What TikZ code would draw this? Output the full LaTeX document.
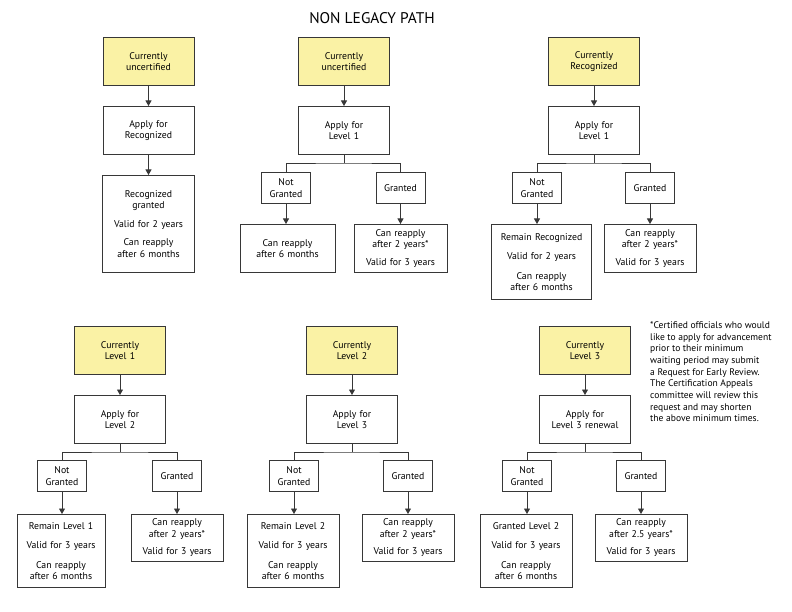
\documentclass[tikz,border=0pt]{standalone}
\usepackage{fontspec}
\setmainfont{PT Sans}
\usetikzlibrary{arrows.meta}
\definecolor{certyellow}{RGB}{250,242,165}
\definecolor{lineclr}{RGB}{55,55,55}
\tikzset{
  box/.style={draw=lineclr, line width=0.9bp, align=center, anchor=north, inner sep=2bp,
    minimum height=48bp, text width=87bp, font=\fontsize{9.8}{11.5}\selectfont},
  statusbox/.style={box, fill=certyellow},
  decisionbox/.style={box, minimum height=31bp, text width=45bp},
  resultbox/.style={box, text width=88bp},
  arr/.style={draw=lineclr, line width=0.9bp, -{Triangle[length=5.5bp,width=6bp]}},
  branch/.style={draw=lineclr, line width=0.9bp},
}
\begin{document}
\begin{tikzpicture}[x=1bp, y=-1bp]
\useasboundingbox (0,0) rectangle (792,612);
\node[font=\fontsize{15.5}{18}\selectfont] (title) at (372,18) {NON LEGACY PATH};

  \node[statusbox] (s1) at (148.5,37) {Currently\\uncertified};
  \node[box] (a1) at (148.5,106) {Apply for\\Recognized};
  \node[resultbox, minimum height=97bp] (r1) at (148.5,175) {Recognized\\granted\\[7bp]Valid for 2 years\\[7bp]Can reapply\\after 6 months};
  \draw[arr] (s1) -- (a1);
  \draw[arr] (a1) -- (r1);

  \node[statusbox] (s2) at (344,37) {Currently\\uncertified};
  \node[box] (a2) at (344,106) {Apply for\\Level 1};
  \coordinate (j2) at (344,163);
  \node[decisionbox] (n2) at (286,172) {Not\\Granted};
  \node[decisionbox] (g2) at (400.5,172) {Granted};
  \node[resultbox, text width=91bp] (rn2) at (287.5,224) {Can reapply\\after 6 months};
  \node[resultbox, text width=89bp] (rg2) at (400.5,224) {Can reapply\\after 2 years*\\[6bp]Valid for 3 years};
  \draw[arr] (s2) -- (a2);
  \draw[branch] (a2) -- (j2);
  \draw[branch] (n2.north) |- (j2) -| (g2.north);
  \draw[arr] (n2) -- (n2 |- rn2.north);
  \draw[arr] (g2) -- (g2 |- rg2.north);

  \node[statusbox] (s3) at (594,37) {Currently\\Recognized};
  \node[box] (a3) at (594,106) {Apply for\\Level 1};
  \coordinate (j3) at (594,163);
  \node[decisionbox] (n3) at (537,172) {Not\\Granted};
  \node[decisionbox] (g3) at (650,172) {Granted};
  \node[resultbox, text width=96bp, minimum height=75bp] (rn3) at (541.5,224) {Remain Recognized\\[8bp]Valid for 2 years\\[8bp]Can reapply\\after 6 months};
  \node[resultbox] (rg3) at (650,224) {Can reapply\\after 2 years*\\[6bp]Valid for 3 years};
  \draw[arr] (s3) -- (a3);
  \draw[branch] (a3) -- (j3);
  \draw[branch] (n3.north) |- (j3) -| (g3.north);
  \draw[arr] (n3) -- (n3 |- rn3.north);
  \draw[arr] (g3) -- (g3 |- rg3.north);

  \node[statusbox] (s4) at (120,326) {Currently\\Level 1};
  \node[box] (a4) at (120,395) {Apply for\\Level 2};
  \coordinate (j4) at (120,452);
  \node[decisionbox] (n4) at (62,460) {Not\\Granted};
  \node[decisionbox] (g4) at (177,460) {Granted};
  \node[resultbox, text width=84bp, minimum height=73bp] (rn4) at (61,514) {Remain Level 1\\[8bp]Valid for 3 years\\[8bp]Can reapply\\after 6 months};
  \node[resultbox, minimum height=47bp] (rg4) at (177,514) {Can reapply\\after 2 years*\\[6bp]Valid for 3 years};
  \draw[arr] (s4) -- (a4);
  \draw[branch] (a4) -- (j4);
  \draw[branch] (n4.north) |- (j4) -| (g4.north);
  \draw[arr] (n4) -- (n4 |- rn4.north);
  \draw[arr] (g4) -- (g4 |- rg4.north);

  \node[statusbox] (s5) at (352,326) {Currently\\Level 2};
  \node[box] (a5) at (352,395) {Apply for\\Level 3};
  \coordinate (j5) at (352,452);
  \node[decisionbox] (n5) at (294,460) {Not\\Granted};
  \node[decisionbox] (g5) at (408,460) {Granted};
  \node[resultbox, minimum height=73bp] (rn5) at (293,514) {Remain Level 2\\[8bp]Valid for 3 years\\[8bp]Can reapply\\after 6 months};
  \node[resultbox, minimum height=47bp] (rg5) at (408,514) {Can reapply\\after 2 years*\\[6bp]Valid for 3 years};
  \draw[arr] (s5) -- (a5);
  \draw[branch] (a5) -- (j5);
  \draw[branch] (n5.north) |- (j5) -| (g5.north);
  \draw[arr] (n5) -- (n5 |- rn5.north);
  \draw[arr] (g5) -- (g5 |- rg5.north);

  \node[statusbox] (s6) at (585,326) {Currently\\Level 3};
  \node[box] (a6) at (585,395) {Apply for\\Level 3 renewal};
  \coordinate (j6) at (585,452);
  \node[decisionbox] (n6) at (527,460) {Not\\Granted};
  \node[decisionbox] (g6) at (641,460) {Granted};
  \node[resultbox, minimum height=73bp] (rn6) at (526,514) {Granted Level 2\\[8bp]Valid for 3 years\\[8bp]Can reapply\\after 6 months};
  \node[resultbox, minimum height=47bp] (rg6) at (641,514) {Can reapply\\after 2.5 years*\\[6bp]Valid for 3 years};
  \draw[arr] (s6) -- (a6);
  \draw[branch] (a6) -- (j6);
  \draw[branch] (n6.north) |- (j6) -| (g6.north);
  \draw[arr] (n6) -- (n6 |- rn6.north);
  \draw[arr] (g6) -- (g6 |- rg6.north);

\node[anchor=north west, align=left, inner sep=0pt, font=\fontsize{9.6}{11.7}\selectfont] (note) at (650,321.5)
  {*Certified officials who would\\like to apply for advancement\\prior to their minimum\\waiting period may submit\\a Request for Early Review.\\The Certification Appeals\\committee will review this\\request and may shorten\\the above minimum times.};
\end{tikzpicture}
\end{document}
